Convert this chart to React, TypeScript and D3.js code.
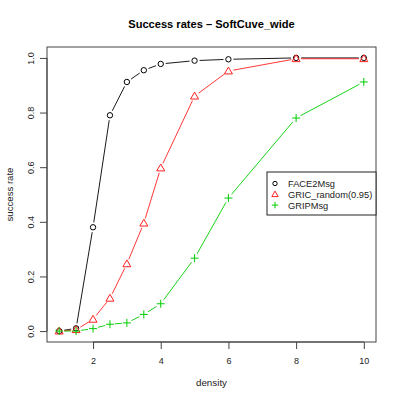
import { useEffect, useRef } from "react";
import * as d3 from "d3";

const density = [1, 1.5, 2, 2.5, 3, 3.5, 4, 5, 6, 8, 10];
const face2Msg = [0, 0.01, 0.38, 0.79, 0.912, 0.955, 0.978, 0.99, 0.995, 1.0, 1.0];
const gricRandom = [0, 0.005, 0.043, 0.12, 0.246, 0.395, 0.597, 0.86, 0.952, 0.997, 0.997];
const gripMsg = [0, 0, 0.009, 0.025, 0.03, 0.061, 0.1, 0.267, 0.487, 0.78, 0.912];
const seriesNames = ["FACE2Msg", "GRIC_random(0.95)", "GRIPMsg"];
const xTicks = [2, 4, 6, 8, 10];
const yTicks = [0, 0.2, 0.4, 0.6, 0.8, 1.0];

const colors = ["#000000", "#ff2020", "#00cd00"];
const shapes = ["circle", "triangle", "plus"];

export default function App() {
  const ref = useRef<SVGSVGElement>(null);

  useEffect(() => {
    const width = 399;
    const height = 400;
    const margin = { top: 47, right: 23, bottom: 58, left: 47 };
    const font = "'Liberation Sans', Arial, sans-serif";

    const svg = d3.select(ref.current).attr("width", width).attr("height", height);
    svg.selectAll("*").remove();
    svg.append("rect").attr("width", width).attr("height", height).attr("fill", "white");

    const x = d3.scaleLinear().domain([0.64, 10.36]).range([margin.left, width - margin.right]);
    const y = d3.scaleLinear().domain([-0.04, 1.04]).range([height - margin.bottom, margin.top]);

    const axisColor = "#444";

    // x axis
    const gx = svg.append("g").attr("transform", `translate(0,${height - margin.bottom})`);
    gx.call(d3.axisBottom(x).tickValues(xTicks).tickSize(7).tickPadding(9).tickFormat(d3.format("d")));
    gx.select(".domain").attr("d", `M${x(2)},0H${x(10)}`).attr("stroke", axisColor);
    gx.selectAll(".tick line").attr("stroke", axisColor);
    gx.selectAll("text").attr("font-family", font).attr("font-size", 9).attr("fill", "#222");

    // y axis
    const gy = svg.append("g").attr("transform", `translate(${margin.left},0)`);
    gy.call(d3.axisLeft(y).tickValues(yTicks).tickSize(7).tickFormat(d3.format(".1f")));
    gy.select(".domain").attr("d", `M0,${y(0)}V${y(1)}`).attr("stroke", axisColor);
    gy.selectAll(".tick line").attr("stroke", axisColor);
    gy.selectAll(".tick text")
      .attr("x", 0)
      .attr("dy", 0)
      .attr("transform", "translate(-13.5,0) rotate(-90)")
      .attr("text-anchor", "middle")
      .attr("font-family", font)
      .attr("font-size", 9)
      .attr("fill", "#222");

    // plot box
    svg
      .append("rect")
      .attr("x", margin.left)
      .attr("y", margin.top)
      .attr("width", width - margin.left - margin.right)
      .attr("height", height - margin.top - margin.bottom)
      .attr("fill", "none")
      .attr("stroke", axisColor);

    // title and labels
    svg
      .append("text")
      .attr("x", (margin.left + width - margin.right) / 2)
      .attr("y", 27.5)
      .attr("text-anchor", "middle")
      .attr("font-family", font)
      .attr("font-weight", "bold")
      .attr("font-size", 11.1)
      .text("Success rates – SoftCuve_wide");

    svg
      .append("text")
      .attr("x", (margin.left + width - margin.right) / 2)
      .attr("y", 385.5)
      .attr("text-anchor", "middle")
      .attr("font-family", font)
      .attr("font-size", 9.8)
      .attr("fill", "#222")
      .text("density");

    svg
      .append("text")
      .attr("transform", `translate(13,${(margin.top + height - margin.bottom) / 2}) rotate(-90)`)
      .attr("text-anchor", "middle")
      .attr("font-family", font)
      .attr("font-size", 9.6)
      .attr("fill", "#222")
      .text("success rate");

    const drawSymbol = (g: any, shape: string, cx: number, cy: number, color: string, k = 1) => {
      if (shape === "circle") {
        g.append("circle").attr("cx", cx).attr("cy", cy).attr("r", 2.7 * k)
          .attr("fill", "none").attr("stroke", color).attr("stroke-width", 1);
      } else if (shape === "triangle") {
        const s = 4 * k;
        g.append("path")
          .attr("d", `M${cx},${cy - s}L${cx + s},${cy + s * 0.72}L${cx - s},${cy + s * 0.72}Z`)
          .attr("fill", "none").attr("stroke", color).attr("stroke-width", 1);
      } else {
        const s = 4 * k;
        g.append("path")
          .attr("d", `M${cx - s},${cy}H${cx + s}M${cx},${cy - s}V${cy + s}`)
          .attr("fill", "none").attr("stroke", color).attr("stroke-width", 1);
      }
    };

    const allSeries = [face2Msg, gricRandom, gripMsg];
    const gap = 5;
    allSeries.forEach((vals, si) => {
      const g = svg.append("g");
      const pts = density.map((d, i) => [x(d), y(vals[i])]);
      // type="b": segments with gaps around points
      for (let i = 0; i < pts.length - 1; i++) {
        const [x0, y0] = pts[i];
        const [x1, y1] = pts[i + 1];
        const len = Math.hypot(x1 - x0, y1 - y0);
        if (len <= 2 * gap) continue;
        const ux = (x1 - x0) / len;
        const uy = (y1 - y0) / len;
        g.append("line")
          .attr("x1", x0 + ux * gap).attr("y1", y0 + uy * gap)
          .attr("x2", x1 - ux * gap).attr("y2", y1 - uy * gap)
          .attr("stroke", colors[si]).attr("stroke-width", 0.9);
      }
      pts.forEach(([px, py]) => drawSymbol(g, shapes[si], px, py, colors[si]));
    });

    // legend
    const lx = 267;
    const ly = 172;
    const lw = width - margin.right - lx;
    const lg = svg.append("g");
    lg.append("rect").attr("x", lx).attr("y", ly).attr("width", lw).attr("height", 43)
      .attr("fill", "white").attr("stroke", "#222");
    seriesNames.forEach((name, i) => {
      const yy = ly + 11.5 + i * 10.8;
      drawSymbol(lg, shapes[i], 275, yy, colors[i], 0.8);
      lg.append("text")
        .attr("x", 288)
        .attr("y", yy + 3.5)
        .attr("font-family", font)
        .attr("font-size", 9.3)
        .attr("fill", "#222")
        .text(name);
    });
  }, []);

  return <svg ref={ref} style={{ display: "block", position: "absolute", left: 0, top: 0 }} />;
}
